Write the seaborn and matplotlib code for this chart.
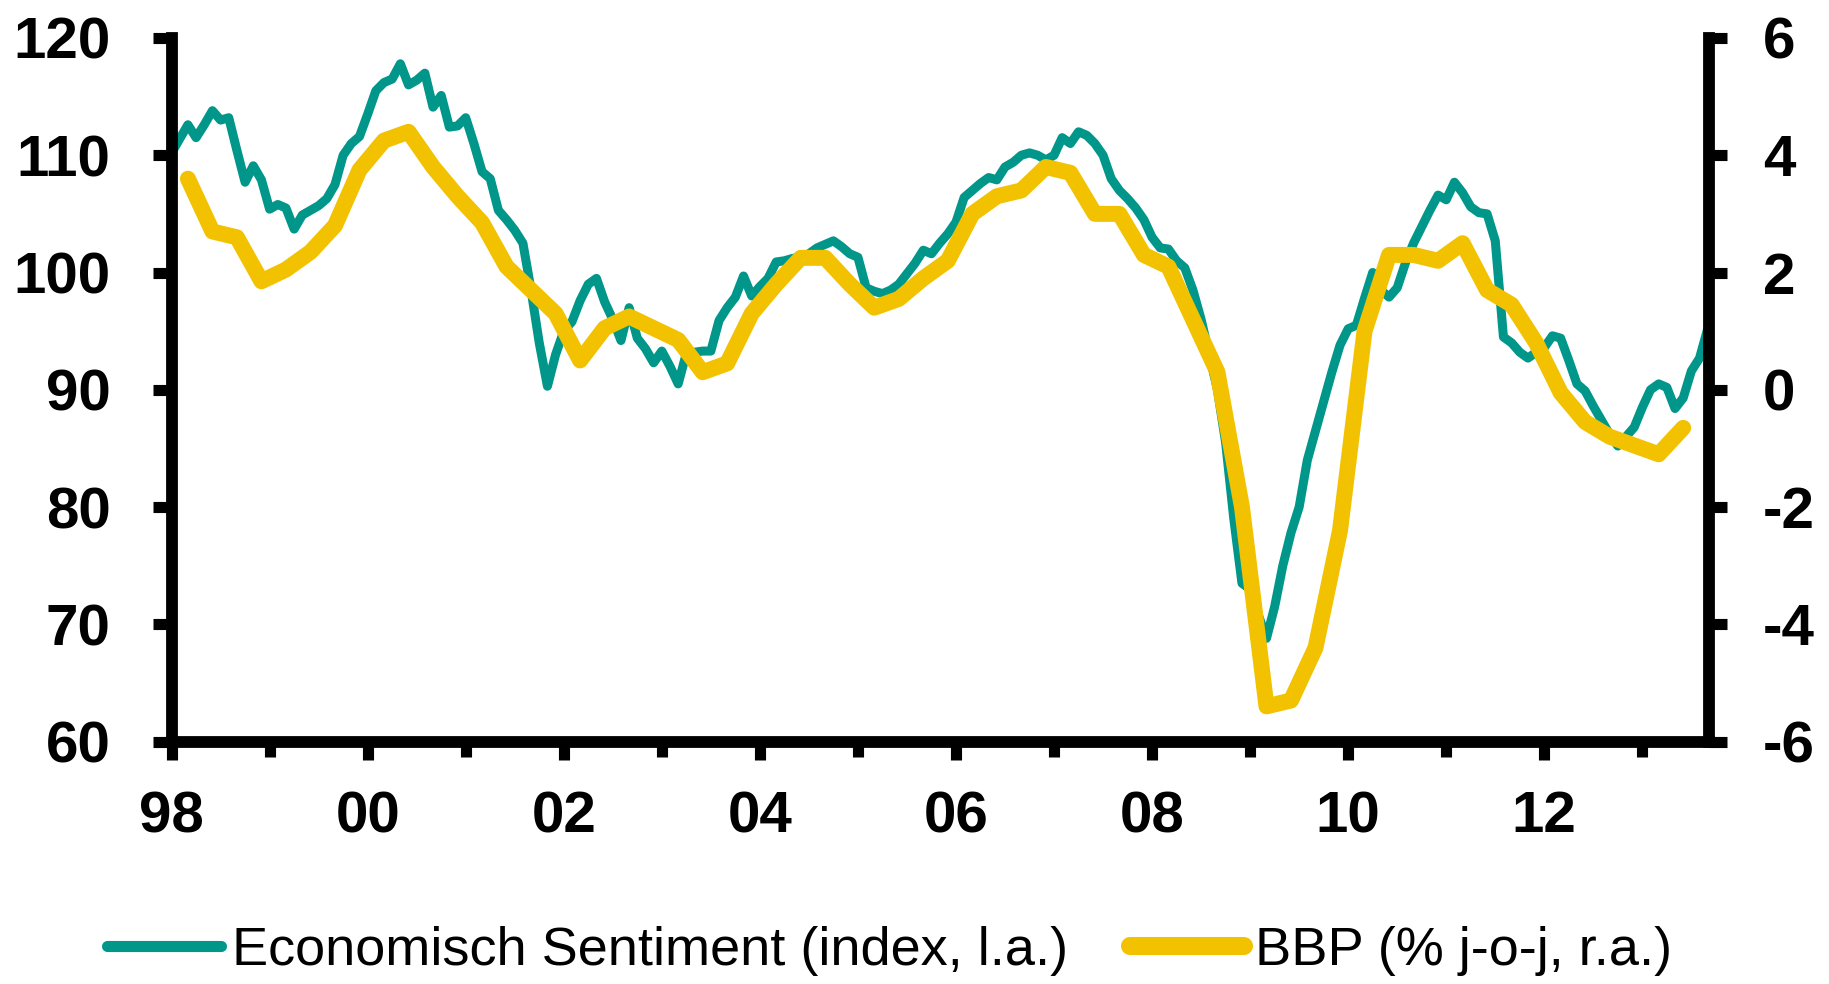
import numpy as np
import pandas as pd
import matplotlib
matplotlib.use('Agg')
import matplotlib.pyplot as plt
import seaborn as sns
from matplotlib.lines import Line2D


TEAL = '#00968a'
YELLOW = '#f2c200'

# economisch sentiment (index), monthly, jan 1998 - sep 2013
sentiment = [
    110.2, 111.4, 112.6, 111.5, 112.6, 113.8, 113.0, 113.2, 110.4, 107.7, 109.1, 107.9,  # 98
    105.4, 105.8, 105.5, 103.7, 104.9, 105.3, 105.7, 106.3, 107.5, 110.0, 111.0, 111.6,  # 99
    113.5, 115.5, 116.2, 116.5, 117.8, 116.0, 116.4, 117.0, 114.1, 115.1, 112.4, 112.5,  # 00
    113.2, 111.0, 108.6, 108.0, 105.3, 104.5, 103.6, 102.5, 98.5, 94.0, 90.3, 93.0,      # 01
    95.0, 95.8, 97.6, 99.0, 99.5, 97.5, 96.0, 94.2, 97.0, 94.4, 93.5, 92.3,              # 02
    93.3, 92.0, 90.5, 93.1, 93.2, 93.3, 93.3, 95.9, 97.0, 97.9, 99.7, 98.0,              # 03
    98.8, 99.5, 100.9, 101.0, 101.2, 101.3, 101.6, 102.1, 102.4, 102.7, 102.2, 101.6,    # 04
    101.3, 98.7, 98.4, 98.2, 98.5, 99.0, 99.9, 100.8, 101.9, 101.6, 102.5, 103.3,        # 05
    104.3, 106.4, 107.0, 107.6, 108.1, 107.9, 109.0, 109.4, 110.0, 110.2, 110.0, 109.6,  # 06
    110.0, 111.5, 111.0, 112.0, 111.7, 111.0, 110.0, 108.0, 107.0, 106.3, 105.5, 104.5,  # 07
    103.0, 102.1, 102.0, 101.0, 100.4, 98.5, 96.0, 93.0, 90.0, 85.5, 79.0, 73.5,         # 08
    73.0, 70.8, 68.8, 71.5, 75.0, 77.8, 80.0, 84.0, 86.5, 89.0, 91.5, 93.8,              # 09
    95.2, 95.5, 97.8, 100.0, 98.5, 97.9, 98.7, 100.8, 102.5, 103.9, 105.3, 106.6,        # 10
    106.2, 107.7, 106.8, 105.6, 105.1, 105.0, 102.7, 94.5, 94.0, 93.2, 92.7, 93.2,       # 11
    93.6, 94.6, 94.4, 92.5, 90.5, 89.9, 88.6, 87.4, 86.2, 85.2, 86.0, 86.8,              # 12
    88.5, 90.0, 90.5, 90.2, 88.4, 89.3, 91.6, 92.7, 95.2,                                # 13
]

# bbp (% j-o-j), quarterly, q1 1998 - q2 2013
bbp = [
    3.6, 2.7, 2.6, 1.85,
    2.05, 2.35, 2.8, 3.75,
    4.25, 4.4, 3.8, 3.3,
    2.85, 2.1, 1.7, 1.3,
    0.5, 1.05, 1.25, 1.05,
    0.85, 0.3, 0.45, 1.3,
    1.8, 2.25, 2.25, 1.8,
    1.4, 1.55, 1.9, 2.2,
    3.0, 3.3, 3.4, 3.8,
    3.7, 3.0, 3.0, 2.3,
    2.1, 1.2, 0.3, -2.0,
    -5.4, -5.3, -4.4, -2.4,
    1.0, 2.3, 2.3, 2.2,
    2.5, 1.7, 1.45, 0.8,
    -0.05, -0.55, -0.8, -0.95,
    -1.1, -0.65,
]

year_ticks = [1998, 2000, 2002, 2004, 2006, 2008, 2010, 2012]
year_labels = ['98', '00', '02', '04', '06', '08', '10', '12']
minor_years = [1999, 2001, 2003, 2005, 2007, 2009, 2011, 2013]
left_ticks = [60, 70, 80, 90, 100, 110, 120]
right_ticks = [-6, -4, -2, 0, 2, 4, 6]
labels = ['Economisch Sentiment (index, l.a.)', 'BBP (% j-o-j, r.a.)']

months = pd.DataFrame({'t': 1998 + np.arange(len(sentiment)) / 12.0, 'v': sentiment})
quarters = pd.DataFrame({'t': 1998 + (2 + 3 * np.arange(len(bbp))) / 12.0, 'v': bbp})

sns.set_style('ticks')
plt.rcParams['font.family'] = ['Liberation Sans', 'DejaVu Sans']
plt.rcParams['axes.unicode_minus'] = False
plt.rcParams['text.color'] = 'black'

fig = plt.figure(figsize=(18.29, 9.84), dpi=100)
ax = fig.add_axes([0.0938, 0.2464, 0.8406, 0.715])
ax2 = ax.twinx()

sns.lineplot(data=months, x='t', y='v', ax=ax, color=TEAL, lw=6.5, estimator=None,
             solid_capstyle='round', solid_joinstyle='round')
sns.lineplot(data=quarters, x='t', y='v', ax=ax2, color=YELLOW, lw=11.5, estimator=None,
             solid_capstyle='round', solid_joinstyle='round')

ax.set_xlim(1998, 2013.68)
ax.set_ylim(60, 120)
ax2.set_ylim(-6, 6)
ax.set_xlabel('')
ax.set_ylabel('')
ax2.set_ylabel('')

ax.set_xticks(year_ticks)
ax.set_xticklabels(year_labels)
ax.set_xticks(minor_years, minor=True)
ax.set_yticks(left_ticks)
ax2.set_yticks(right_ticks)

ax.tick_params(axis='x', which='major', direction='out', length=13, width=8, pad=22,
               labelsize=42, colors='black')
ax.tick_params(axis='x', which='minor', direction='out', length=10.5, width=8, colors='black')
ax.tick_params(axis='y', direction='out', length=14, width=8, pad=30, labelsize=42, colors='black')
ax2.tick_params(axis='y', direction='out', length=13, width=8, pad=26, labelsize=42, colors='black')
for lab in ax.get_xticklabels() + ax.get_yticklabels() + ax2.get_yticklabels():
    lab.set_fontweight('bold')

for side in ['top', 'right']:
    ax.spines[side].set_visible(False)
for side in ['top', 'left', 'bottom']:
    ax2.spines[side].set_visible(False)
for sp in [ax.spines['left'], ax.spines['bottom'], ax2.spines['right']]:
    sp.set_linewidth(8.5)
    sp.set_color('black')

handles = [Line2D([], [], color=TEAL, lw=8, solid_capstyle='round'),
           Line2D([], [], color=YELLOW, lw=13, solid_capstyle='round')]
fig.legend(handles, labels, loc='center left', bbox_to_anchor=(107 / 1829, 1 - 951 / 984),
           ncol=2, frameon=False, fontsize=39, handlelength=2.1, handletextpad=0.2,
           columnspacing=1.15, borderpad=0, borderaxespad=0, labelcolor='black')

fig.savefig('out.png', dpi=100)
